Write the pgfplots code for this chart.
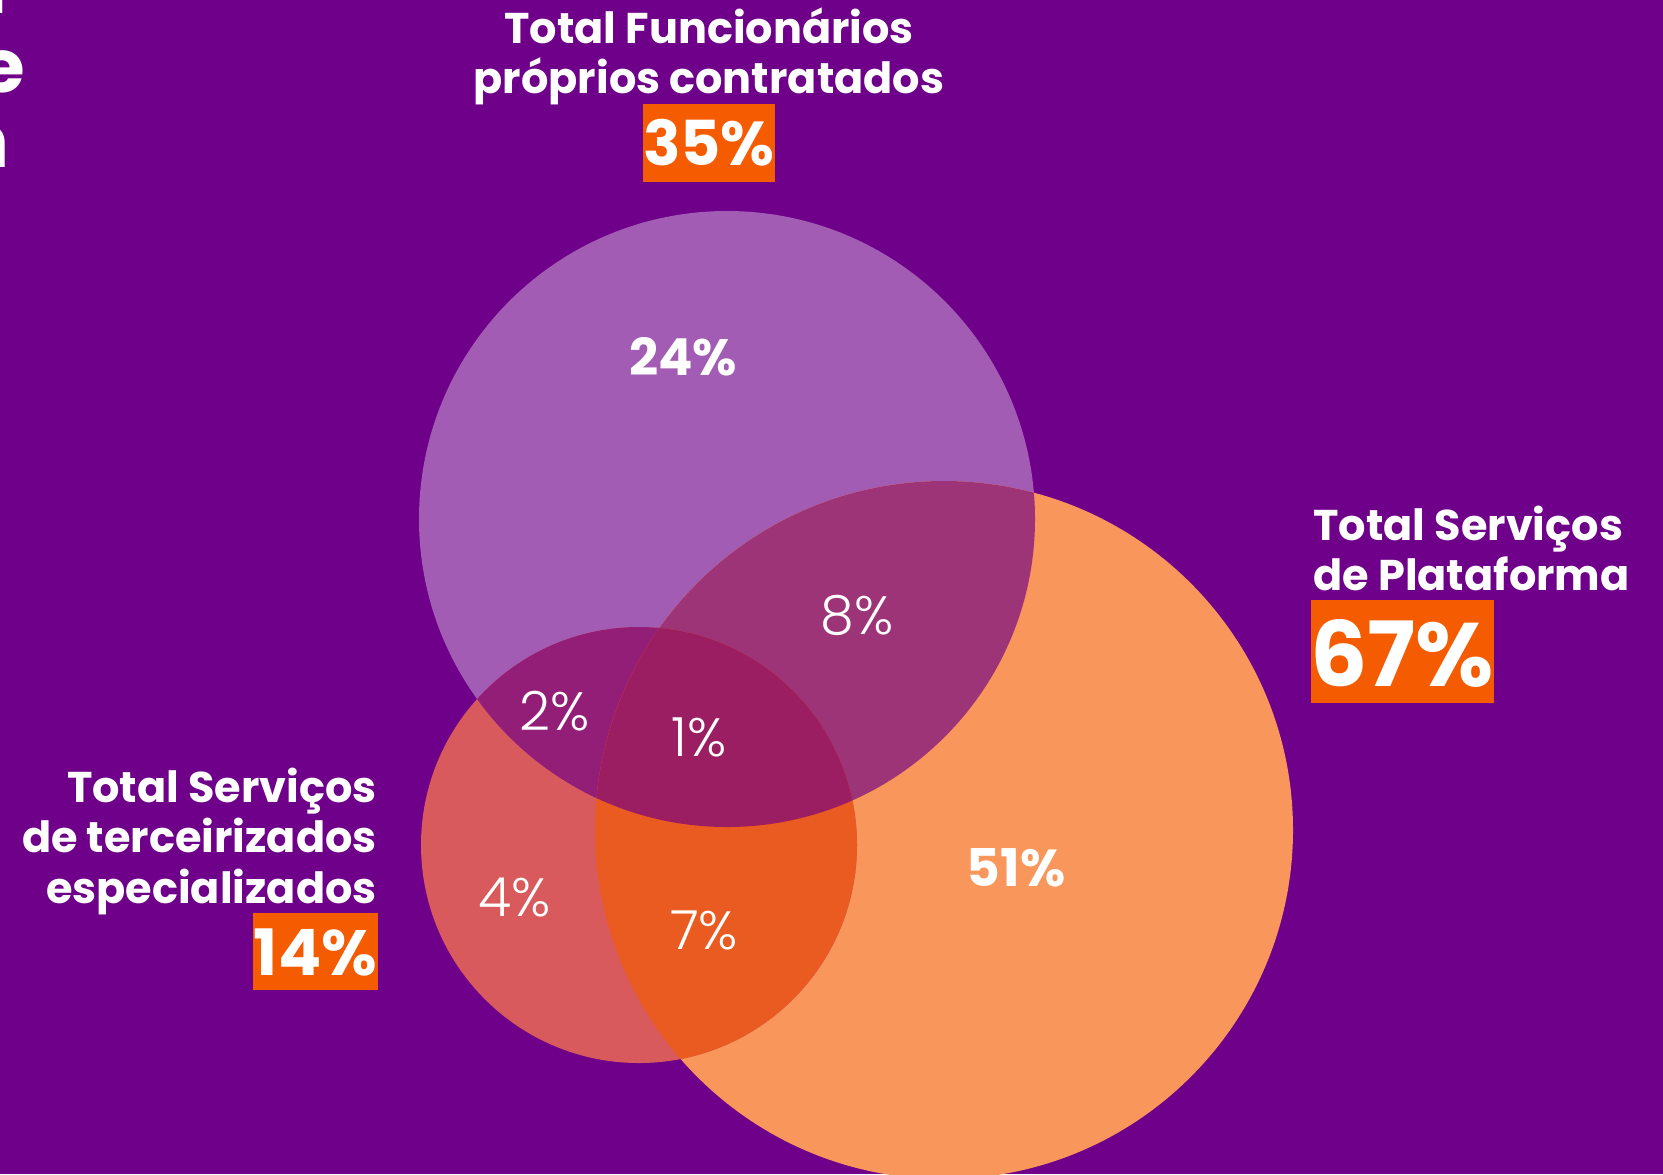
\documentclass[border=0pt]{standalone}
\usepackage{pgfplots}
\pgfplotsset{compat=1.18}
\usepackage{fontspec}
\setmainfont{Poppins}
\newfontfamily\lightfont{Poppins Light}
\definecolor{bg}{HTML}{6E0089}
\definecolor{cP}{HTML}{A25CB4}
\definecolor{cO}{HTML}{F8965B}
\definecolor{cR}{HTML}{D85A5C}
\definecolor{cPO}{HTML}{9E3478}
\definecolor{cRO}{HTML}{EA5B21}
\definecolor{cPR}{HTML}{921E78}
\definecolor{cPRO}{HTML}{9B1E62}
\definecolor{box}{HTML}{F55B00}
\begin{document}
\begin{tikzpicture}
\begin{axis}[width=831.5pt, height=587pt, scale only axis,
  xmin=0, xmax=1663, ymin=0, ymax=1174, y dir=reverse,
  hide axis, clip=true]
% background
\fill[bg] (axis cs:0,0) rectangle (axis cs:1663,1174);
% circles: P (Funcionarios), O (Plataforma), R (terceirizados)
\fill[cP] (axis cs:727,519) circle[radius=154pt];
\fill[cO] (axis cs:944,830) circle[radius=174.5pt];
\fill[cR] (axis cs:639,845) circle[radius=109pt];
\begin{scope}
  \clip (axis cs:727,519) circle[radius=154pt];
  \fill[cPO] (axis cs:944,830) circle[radius=174.5pt];
\end{scope}
\begin{scope}
  \clip (axis cs:727,519) circle[radius=154pt];
  \fill[cPR] (axis cs:639,845) circle[radius=109pt];
\end{scope}
\begin{scope}
  \clip (axis cs:944,830) circle[radius=174.5pt];
  \fill[cRO] (axis cs:639,845) circle[radius=109pt];
\end{scope}
\begin{scope}
  \clip (axis cs:727,519) circle[radius=154pt];
  \clip (axis cs:944,830) circle[radius=174.5pt];
  \fill[cPRO] (axis cs:639,845) circle[radius=109pt];
\end{scope}
% region values
\node[text=white, font=\bfseries\fontsize{25.5}{28}\selectfont] at (axis cs:683,357) {24\%};
\node[text=white, font=\bfseries\fontsize{26}{29}\selectfont] at (axis cs:1016,868) {51\%};
\node[text=white, font=\lightfont\fontsize{27}{29}\selectfont] at (axis cs:857,615) {8\%};
\node[text=white, font=\lightfont\fontsize{27}{29}\selectfont] at (axis cs:555,711) {2\%};
\node[text=white, font=\lightfont\fontsize{27}{29}\selectfont] at (axis cs:699,737) {1\%};
\node[text=white, font=\lightfont\fontsize{27}{29}\selectfont] at (axis cs:515,898) {4\%};
\node[text=white, font=\lightfont\fontsize{27}{29}\selectfont] at (axis cs:704,930) {7\%};
% top label
\node[text=white, anchor=base, inner sep=0pt, font=\bfseries\fontsize{21.5}{24}\selectfont] at (axis cs:709,43) {Total Funcionários};
\node[text=white, anchor=base, inner sep=0pt, font=\bfseries\fontsize{21.5}{24}\selectfont] at (axis cs:709,93) {próprios contratados};
\fill[box] (axis cs:643,104) rectangle (axis cs:775,182);
\node[text=white, font=\bfseries\fontsize{31}{33}\selectfont] at (axis cs:709,143) {35\%};
% right label
\node[text=white, anchor=base west, inner sep=0pt, font=\bfseries\fontsize{21.5}{24}\selectfont] at (axis cs:1313,540) {Total Serviços};
\node[text=white, anchor=base west, inner sep=0pt, font=\bfseries\fontsize{21.5}{24}\selectfont] at (axis cs:1313,590) {de Plataforma};
\fill[box] (axis cs:1311,600) rectangle (axis cs:1494,703);
\node[text=white, font=\bfseries\fontsize{45}{47}\selectfont] at (axis cs:1402,653) {67\%};
% left label
\node[text=white, anchor=base east, inner sep=0pt, font=\bfseries\fontsize{21.5}{24}\selectfont] at (axis cs:377,802) {Total Serviços};
\node[text=white, anchor=base east, inner sep=0pt, font=\bfseries\fontsize{21.5}{24}\selectfont] at (axis cs:377,852) {de terceirizados};
\node[text=white, anchor=base east, inner sep=0pt, font=\bfseries\fontsize{21.5}{24}\selectfont] at (axis cs:377,903) {especializados};
\fill[box] (axis cs:253,913) rectangle (axis cs:378,990);
\node[text=white, font=\bfseries\fontsize{32}{34}\selectfont] at (axis cs:315.5,952) {14\%};
% cut-off title letters at the left edge
\node[text=white, anchor=base east, inner sep=0pt, font=\bfseries\fontsize{37}{40}\selectfont] at (axis cs:25,92) {e};
\node[text=white, anchor=base east, inner sep=0pt, font=\bfseries\fontsize{37}{40}\selectfont] at (axis cs:10,167) {n};
\node[text=white, anchor=base east, inner sep=0pt, font=\bfseries\fontsize{37}{40}\selectfont] at (axis cs:8,13) {l};
\end{axis}
\pgfresetboundingbox
\useasboundingbox (current axis.south west) rectangle (current axis.north east);
\end{tikzpicture}
\end{document}
